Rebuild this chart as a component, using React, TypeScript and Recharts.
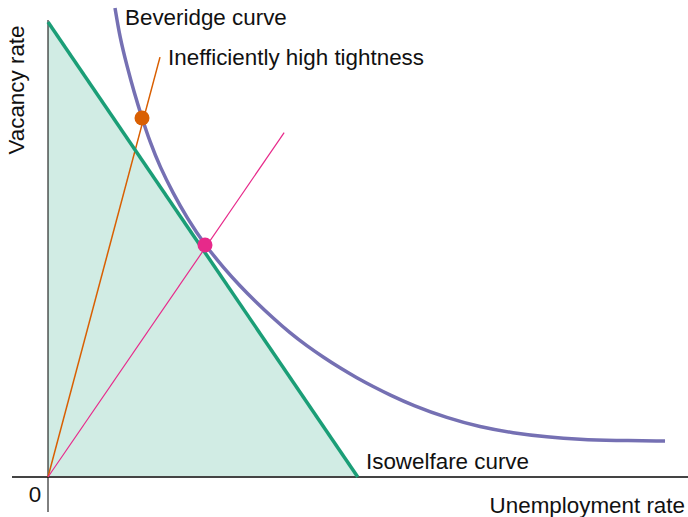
import { ComposedChart, Area, Line, Scatter, XAxis, YAxis, ReferenceLine } from "recharts";

// isowelfare line (also the shaded triangle under it)
const isowelfare = [
  { u: 0, v: 7.11 },
  { u: 4.84, v: 0 },
];

// beveridge curve
const bevU = [
  1.047, 1.125, 1.234, 1.344, 1.469, 1.594, 1.75, 1.953, 2.172, 2.453, 2.734, 3.0, 3.266, 3.516, 3.781,
  4.047, 4.297, 4.563, 4.828, 5.078, 5.344, 5.703, 6.234, 6.75, 7.266, 7.797, 8.313, 8.828, 9.641,
];
const bevV = [
  7.328, 6.859, 6.422, 6.016, 5.609, 5.234, 4.844, 4.438, 4.047, 3.625, 3.281, 2.984, 2.719, 2.484, 2.25,
  2.047, 1.875, 1.703, 1.547, 1.414, 1.281, 1.117, 0.922, 0.781, 0.688, 0.625, 0.586, 0.57, 0.5625,
];
const beveridge = bevU.map((u, i) => ({ u, v: bevV[i] }));

const highTightnessRay = [
  { u: 0, v: 0 },
  { u: 1.75, v: 6.56 },
];
const efficientRay = [
  { u: 0, v: 0 },
  { u: 3.69, v: 5.38 },
];

const highPoint = [{ u: 1.469, v: 5.609 }];
const efficientPoint = [{ u: 2.453, v: 3.625 }];

const font = '"Liberation Sans", Arial, Helvetica, sans-serif';

const dotShape = (color: string) => (p: any) => <circle cx={p.cx} cy={p.cy} r={7.5} fill={color} />;

export default function App() {
  return (
    <div style={{ position: "absolute", left: 0, top: 0, width: 688, height: 517, background: "#fff" }}>
      <ComposedChart width={688} height={517} data={isowelfare} margin={{ top: 0, right: 0, bottom: 0, left: 0 }}>
        <XAxis type="number" dataKey="u" domain={[-0.75, 10]} allowDataOverflow hide />
        <YAxis type="number" dataKey="v" domain={[-0.625, 7.453125]} allowDataOverflow hide />
        <Area
          type="linear"
          dataKey="v"
          stroke="none"
          fill="#1b9e77"
          fillOpacity={0.2}
          baseValue={0}
          dot={false}
          activeDot={false}
          isAnimationActive={false}
        />
        <ReferenceLine
          segment={[{ x: -0.5625, y: 0 }, { x: 10, y: 0 }]}
          stroke="#444"
          strokeWidth={2}
          ifOverflow="visible"
        />
        <ReferenceLine
          segment={[{ x: 0, y: -0.547 }, { x: 0, y: 7.14 }]}
          stroke="#000"
          strokeWidth={1}
          ifOverflow="visible"
        />
        <Line data={highTightnessRay} dataKey="v" type="linear" stroke="#d95f02" strokeWidth={1.5} dot={false} activeDot={false} isAnimationActive={false} />
        <Line data={efficientRay} dataKey="v" type="linear" stroke="#e7298a" strokeWidth={1.2} dot={false} activeDot={false} isAnimationActive={false} />
        <Line dataKey="v" type="linear" stroke="#1b9e77" strokeWidth={3.5} dot={false} activeDot={false} isAnimationActive={false} />
        <Line data={beveridge} dataKey="v" type="basis" stroke="#7570b3" strokeWidth={3.5} dot={false} activeDot={false} isAnimationActive={false} />
        <Scatter data={highPoint} dataKey="v" shape={dotShape("#d95f02")} isAnimationActive={false} />
        <Scatter data={efficientPoint} dataKey="v" shape={dotShape("#e7298a")} isAnimationActive={false} />
      </ComposedChart>
      <svg
        width={688}
        height={517}
        style={{ position: "absolute", left: 0, top: 0, pointerEvents: "none" }}
        fontFamily={font}
        fontSize={22.4}
        fill="#111"
      >
        <text x={125} y={25}>Beveridge curve</text>
        <text x={168} y={65}>Inefficiently high tightness</text>
        <text x={366} y={469}>Isowelfare curve</text>
        <text x={685} y={513} textAnchor="end">Unemployment rate</text>
        <text x={35} y={502} textAnchor="middle">0</text>
        <text x={24} y={90} textAnchor="middle" transform="rotate(-90 24 90)">Vacancy rate</text>
      </svg>
    </div>
  );
}
